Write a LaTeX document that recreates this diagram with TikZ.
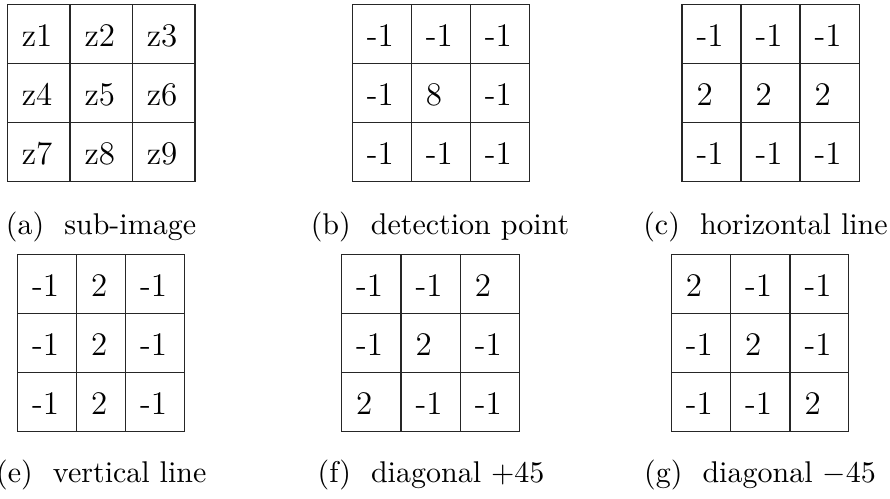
\documentclass[tikz,border=0pt]{standalone}
\tikzset{
  gridline/.style={line width=0.4pt, draw=black!85},
  celltext/.style={anchor=base west, inner sep=0pt, outer sep=0pt, font=\fontsize{11}{13}\selectfont},
  captext/.style={anchor=base, inner sep=0pt, outer sep=0pt, font=\fontsize{10}{12}\selectfont},
}
\newcommand{\kgrid}[4]{%
  \def\xs{{#2}}%
  \pgfmathsetmacro\xa{\xs[0]}\pgfmathsetmacro\xb{\xs[1]}%
  \pgfmathsetmacro\xc{\xs[2]}\pgfmathsetmacro\xd{\xs[3]}%
  \pgfmathsetmacro\ya{#3}\pgfmathsetmacro\yb{#3+58.8}%
  \pgfmathsetmacro\yc{#3+117.6}\pgfmathsetmacro\yd{#3+176.6}%
  \draw[gridline] (\xa,\ya) rectangle (\xd,\yd);
  \draw[gridline] (\xb,\ya) -- (\xb,\yd) (\xc,\ya) -- (\xc,\yd)
                  (\xa,\yb) -- (\xd,\yb) (\xa,\yc) -- (\xd,\yc);
  \foreach \t [count=\k from 0] in {#4} {%
    \pgfmathtruncatemacro\r{int(\k/3)}%
    \pgfmathtruncatemacro\c{mod(\k,3)}%
    \pgfmathsetmacro\xl{\xs[\c]+14.5}%
    \pgfmathsetmacro\yl{#3+\r*58.8+42}%
    \node[celltext] (#1-\k) at (\xl,\yl) {\t};
  }%
}
\begin{document}
\begin{tikzpicture}[x=0.33333pt, y=-0.33333pt]
\useasboundingbox (0,0) rectangle (890,498);
\kgrid{a}{7.3,70,132.3,195}{4.7}{z1,z2,z3,z4,z5,z6,z7,z8,z9}
\kgrid{b}{352.3,411.3,470.3,529.3}{4.7}{-1,-1,-1,-1,8,-1,-1,-1,-1}
\kgrid{c}{682,741,800,859.3}{4.7}{-1,-1,-1,2,2,2,-1,-1,-1}
\kgrid{e}{17.7,76.7,125.7,184.3}{254.7}{-1,2,-1,-1,2,-1,-1,2,-1}
\kgrid{f}{341.7,401,460.3,519.3}{254.7}{-1,-1,2,-1,2,-1,2,-1,-1}
\kgrid{g}{671.3,730.7,790,848.7}{254.7}{2,-1,-1,-1,2,-1,-1,-1,2}
\node[captext] (capa) at (101,234) {(a)\hspace{6.7pt}sub-image};
\node[captext] (capb) at (440,234) {(b)\hspace{6.7pt}detection point};
\node[captext] (capc) at (765.5,234) {(c)\hspace{6.7pt}horizontal line};
\node[captext] (cape) at (101.3,482) {(e)\hspace{6.7pt}vertical line};
\node[captext] (capf) at (431,482) {(f)\hspace{6.7pt}diagonal $+45$};
\node[captext] (capg) at (760,482) {(g)\hspace{6.7pt}diagonal $-45$};
\end{tikzpicture}
\end{document}
